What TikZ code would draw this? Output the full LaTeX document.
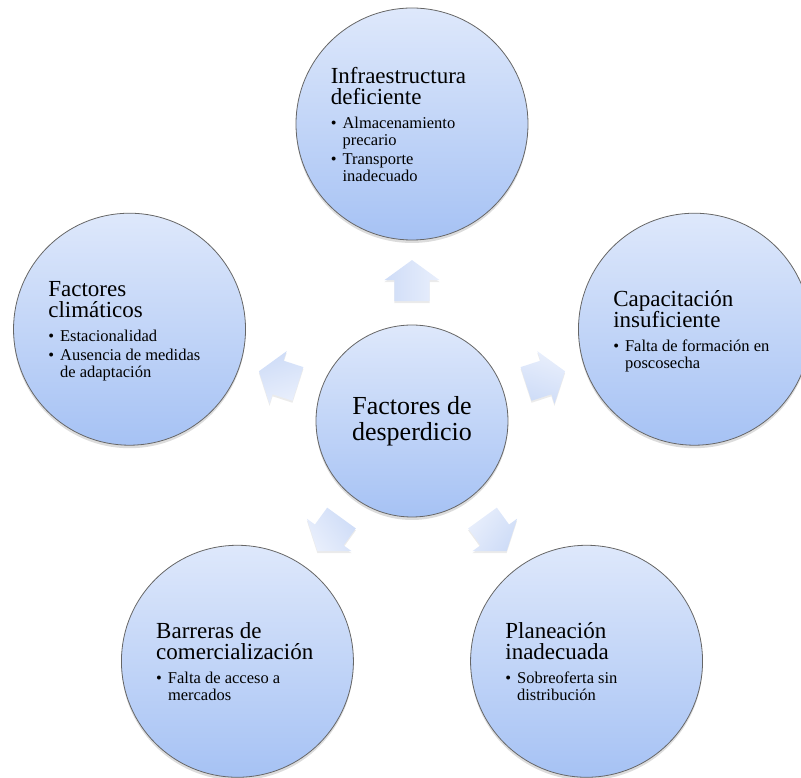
\documentclass[tikz,border=0pt]{standalone}
\usepackage{fontspec}
\setmainfont{Liberation Serif}
\usepackage{xcolor}
\usepackage{tikz}
\usetikzlibrary{shapes.arrows, shadows, positioning}

\definecolor{cTop}{RGB}{222,232,251}
\definecolor{cBot}{RGB}{166,194,244}
\definecolor{aTop}{RGB}{233,239,252}
\definecolor{aBot}{RGB}{206,220,247}

\newcommand{\tit}[1]{\multicolumn{2}{@{}l@{}}{\fontsize{23}{21}\selectfont #1}}

\begin{document}
\begin{tikzpicture}[
  x=1pt, y=1pt,
  circulo/.style={circle, draw=black!60, line width=0.8pt, top color=cTop, bottom color=cBot,
    minimum size=232pt, inner sep=0pt,
    drop shadow={shadow xshift=0pt, shadow yshift=-3pt, opacity=0.3, fill=black!45}},
  centro/.style={circulo, minimum size=192pt, align=center, font=\fontsize{26}{26}\selectfont},
  texto/.style={inner sep=0pt, font=\fontsize{16.5}{17}\selectfont},
  flecha/.style={single arrow, draw=none, minimum height=41pt,
    single arrow head extend=10pt, single arrow tip angle=108, inner sep=0pt,
    top color=aTop, bottom color=aBot, shading angle=-#1, rotate=#1,
    drop shadow={shadow xshift=0pt, shadow yshift=-2pt, opacity=0.2, fill=black!40}}
]
  \useasboundingbox (-412,-357) rectangle (389,421);

  \node[centro] (desp) at (0,0) {Factores de\\desperdicio};

  \node[circulo] (infra) at (90:297) {};
  \node[circulo] (clima) at (162:297) {};
  \node[circulo] (capac) at (18:297) {};
  \node[circulo] (barre) at (234:297) {};
  \node[circulo] (plane) at (306:297) {};

  % block arrows from the centre
  \node[flecha=90] (fInfra) at (90:134) {\rule{0pt}{35pt}};
  \node[flecha=162] (fClima) at (162:134) {\rule{0pt}{35pt}};
  \node[flecha=18] (fCapac) at (18:134) {\rule{0pt}{35pt}};
  \node[flecha=234] (fBarre) at (234:134) {\rule{0pt}{35pt}};
  \node[flecha=306] (fPlane) at (306:134) {\rule{0pt}{35pt}};

  \node[texto, right=35pt of infra.west, yshift=-3pt] (infraT) {%
    \begin{tabular}{@{}l@{\hspace{6pt}}l@{}}
      \tit{Infraestructura}\\
      \tit{deficiente}\\[7pt]
      \textbullet & Almacenamiento\\
                  & precario\\[2pt]
      \textbullet & Transporte\\
                  & inadecuado
    \end{tabular}};
  \node[texto, right=35pt of clima.west, yshift=-3pt] (climaT) {%
    \begin{tabular}{@{}l@{\hspace{6pt}}l@{}}
      \tit{Factores}\\
      \tit{climáticos}\\[7pt]
      \textbullet & Estacionalidad\\[2pt]
      \textbullet & Ausencia de medidas\\
                  & de adaptación
    \end{tabular}};
  \node[texto, right=35pt of capac.west, yshift=-3pt] (capacT) {%
    \begin{tabular}{@{}l@{\hspace{6pt}}l@{}}
      \tit{Capacitación}\\
      \tit{insuficiente}\\[7pt]
      \textbullet & Falta de formación en\\
                  & poscosecha
    \end{tabular}};
  \node[texto, right=35pt of barre.west, yshift=-3pt] (barreT) {%
    \begin{tabular}{@{}l@{\hspace{6pt}}l@{}}
      \tit{Barreras de}\\
      \tit{comercialización}\\[7pt]
      \textbullet & Falta de acceso a\\
                  & mercados
    \end{tabular}};
  \node[texto, right=35pt of plane.west, yshift=-3pt] (planeT) {%
    \begin{tabular}{@{}l@{\hspace{6pt}}l@{}}
      \tit{Planeación}\\
      \tit{inadecuada}\\[7pt]
      \textbullet & Sobreoferta sin\\
                  & distribución
    \end{tabular}};
\end{tikzpicture}
\end{document}
